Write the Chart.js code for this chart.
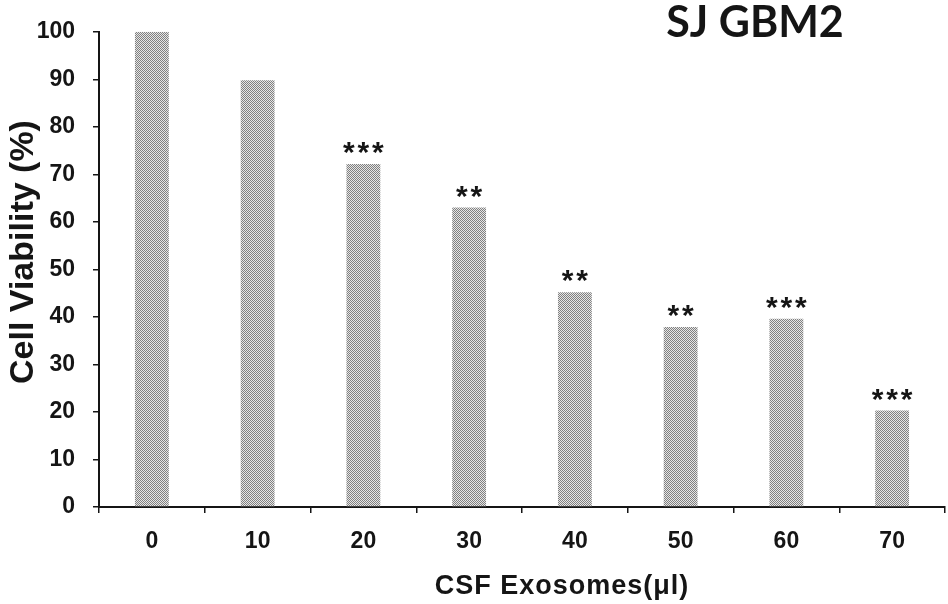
<!DOCTYPE html>
<html>
<head>
<meta charset="utf-8">
<script src="https://cdn.jsdelivr.net/npm/chart.js@4.4.1/dist/chart.umd.min.js"></script>
<style>
  html, body { margin: 0; padding: 0; background: #fff; }
  canvas { display: block; }
</style>
</head>
<body>
<canvas id="chart" width="948" height="604"></canvas>
<script>
// data
const doses = ['0', '10', '20', '30', '40', '50', '60', '70']
const viability = [100, 89.8, 72.2, 63, 45.2, 37.9, 39.6, 20.3]
const stars = ['', '', '***', '**', '**', '**', '***', '***']
const yMin = 0, yMax = 100, yStep = 10

// dotted grey fill like the printed figure
function dotPattern() {
  const c = document.createElement('canvas')
  c.width = 2; c.height = 2
  const g = c.getContext('2d')
  g.fillStyle = '#e6e6e6'; g.fillRect(0, 0, 2, 2)
  g.fillStyle = '#808080'; g.fillRect(0, 0, 1, 1); g.fillRect(1, 1, 1, 1)
  return g.createPattern(c, 'repeat')
}

const ink = '#151515'
const font = "'Liberation Sans', Arial, sans-serif"

const extras = {
  id: 'extras',
  afterDatasetsDraw(chart) {
    const ctx = chart.ctx
    const meta = chart.getDatasetMeta(0)
    ctx.save()
    ctx.fillStyle = ink
    ctx.textAlign = 'center'
    ctx.textBaseline = 'alphabetic'

    // significance marks above the bars
    ctx.font = 'bold 30px ' + font
    meta.data.forEach((bar, i) => {
      const s = stars[i]
      if (!s) return
      const gap = 14.5
      for (let k = 0; k < s.length; k++) {
        const x = bar.x + (k - (s.length - 1) / 2) * gap
        ctx.fillText('*', x, bar.y - 2)
      }
    })

    // panel title
    ctx.font = "bold 43px Lato, 'Open Sans', sans-serif"
    ctx.fillText('SJ GBM2', 755, 37)

    // x axis title
    ctx.font = 'bold 27px ' + font
    if ('letterSpacing' in ctx) ctx.letterSpacing = '1px'
    ctx.fillText('CSF Exosomes(μl)', 562, 594)
    if ('letterSpacing' in ctx) ctx.letterSpacing = '0px'

    // y axis title
    ctx.translate(33, 252)
    ctx.rotate(-Math.PI / 2)
    ctx.font = 'bold 34px ' + font
    ctx.fillText('Cell Viability (%)', 0, 0)
    ctx.restore()
  }
}

new Chart(document.getElementById('chart'), {
  type: 'bar',
  data: {
    labels: doses,
    datasets: [{
      data: viability,
      backgroundColor: dotPattern(),
      borderWidth: 0,
      barPercentage: 0.64,
      categoryPercentage: 0.5
    }]
  },
  options: {
    responsive: false,
    animation: false,
    devicePixelRatio: 1,
    layout: { padding: { top: 28, right: 3, left: 0, bottom: 0 } },
    plugins: { legend: { display: false }, tooltip: { enabled: false } },
    scales: {
      x: {
        offset: true,
        afterFit: s => { s.height = 97 },
        grid: { offset: true, drawOnChartArea: false, drawTicks: true, tickLength: 6, color: ink, lineWidth: 1.5 },
        border: { display: true, color: ink, width: 2, dash: [2, 1] },
        ticks: { color: ink, padding: 15, font: { family: font, size: 23, weight: 'bold' } }
      },
      y: {
        min: yMin, max: yMax,
        afterFit: s => { s.width = 99 },
        grid: { drawOnChartArea: false, drawTicks: true, tickLength: 6, color: ink, lineWidth: 1.5 },
        border: { display: true, color: ink, width: 2, dash: [2, 1] },
        ticks: { stepSize: yStep, color: ink, padding: 18, font: { family: font, size: 23, weight: 'bold' } }
      }
    }
  },
  plugins: [extras]
})
</script>
</body>
</html>
